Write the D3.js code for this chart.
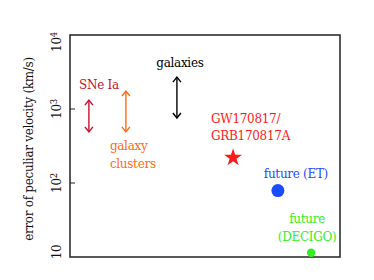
<!DOCTYPE html>
<html>
<head>
<meta charset="utf-8">
<script src="https://cdn.jsdelivr.net/npm/d3@7"></script>
<style>
  body { margin: 0; background: #fff; }
</style>
</head>
<body>
<div id="chart"></div>
<script>
// Ranges (double arrows): x position, low, high of velocity error (km/s)
const rangeNames = ["SNe Ia", "galaxy clusters", "galaxies"];
const rangeX = [0.7, 2.07, 3.96];
const rangeLow = [490, 490, 755];
const rangeHigh = [1320, 1750, 2700];
const rangeColors = ["#c8102e", "#ff6a13", "#000000"];

// Point estimates
const pointNames = ["GW170817/GRB170817A", "future (ET)", "future (DECIGO)"];
const pointX = [6.04, 7.7, 8.93];
const pointY = [220, 79, 11.4];
const pointColors = ["#ff1a1a", "#1a4cff", "#33ee22"];

const yTicks = [10, 100, 1000, 10000];

const width = 374, height = 280;
const margin = { top: 35, right: 34, bottom: 23, left: 70 };
const innerW = width - margin.left - margin.right,
      innerH = height - margin.top - margin.bottom;
const fontSize = "12px";

const svg = d3.select("#chart").append("svg")
  .attr("width", width)
  .attr("height", height)
  .style("font-family", "'DejaVu Serif'")
  .style("letter-spacing", "-0.3px");

const g = svg.append("g")
  .attr("transform", "translate(" + margin.left + "," + margin.top + ")");

const x = d3.scaleLinear().domain([0, 10]).range([0, innerW]);
const y = d3.scaleLog().domain([10, 10000]).range([innerH, 0]);

// Frame
g.append("rect")
  .attr("width", innerW)
  .attr("height", innerH)
  .attr("fill", "none")
  .attr("stroke", "#222")
  .attr("stroke-width", 1.5);

// Inner ticks on left axis (only interior decades)
g.selectAll(".ytick")
  .data(yTicks.slice(1, -1))
  .enter().append("line")
  .attr("x1", 0).attr("x2", 5)
  .attr("y1", d => y(d)).attr("y2", d => y(d))
  .attr("stroke", "#222");

// Tick labels, rotated
const tickLab = g.selectAll(".ylab")
  .data(yTicks)
  .enter().append("text")
  .attr("transform", d => "translate(-9," + (y(d) + (d === 10 ? -5 : d === 10000 ? 7 : 0)) + ") rotate(-90)")
  .attr("text-anchor", "middle")
  .style("font-size", fontSize)
  .attr("fill", "#111");
tickLab.append("tspan").text("10");
tickLab.filter(d => d > 10).append("tspan")
  .attr("dy", "-0.5em")
  .style("font-size", "8.5px")
  .text(d => Math.round(Math.log10(d)));

// Y axis title
svg.append("text")
  .attr("transform", "translate(33," + (margin.top + innerH / 2 + 3) + ") rotate(-90)")
  .attr("text-anchor", "middle")
  .style("font-size", fontSize)
  .attr("fill", "#111")
  .text("error of peculiar velocity (km/s)");

// Double-headed arrows
const head = 4;
rangeNames.forEach((name, i) => {
  const cx = x(rangeX[i]), y1 = y(rangeHigh[i]), y2 = y(rangeLow[i]);
  const a = g.append("g").attr("stroke", rangeColors[i]).attr("stroke-width", 1.4).attr("fill", "none");
  a.append("line").attr("x1", cx).attr("x2", cx).attr("y1", y1).attr("y2", y2);
  a.append("path").attr("d", `M${cx - head},${y1 + head + 1}L${cx},${y1}L${cx + head},${y1 + head + 1}`);
  a.append("path").attr("d", `M${cx - head},${y2 - head - 1}L${cx},${y2}L${cx + head},${y2 - head - 1}`);
});

// Range labels
g.append("text")
  .attr("x", x(rangeX[0]) + 10).attr("y", y(rangeHigh[0]) - 11)
  .attr("text-anchor", "middle")
  .style("font-size", fontSize)
  .attr("fill", rangeColors[0])
  .text("SNe Ia");

g.append("text")
  .attr("y", y(rangeLow[1]) + 18)
  .style("font-size", fontSize)
  .attr("fill", rangeColors[1])
  .selectAll("tspan")
  .data(["galaxy", "clusters"])
  .enter().append("tspan")
  .attr("x", x(rangeX[1]) - 16)
  .attr("dy", (d, j) => j === 0 ? 0 : 18)
  .text(d => d);

g.append("text")
  .attr("x", x(rangeX[2]) + 3).attr("y", y(rangeHigh[2]) - 10)
  .attr("text-anchor", "middle")
  .style("font-size", fontSize)
  .attr("fill", rangeColors[2])
  .text("galaxies");

// GW170817 star
g.append("path")
  .attr("d", d3.symbol().type(d3.symbolStar).size(100)())
  .attr("transform", "translate(" + x(pointX[0]) + "," + y(pointY[0]) + ")")
  .attr("fill", pointColors[0]);

g.append("text")
  .attr("y", y(pointY[0]) - 35)
  .style("font-size", fontSize)
  .attr("fill", pointColors[0])
  .selectAll("tspan")
  .data(["GW170817/", "GRB170817A"])
  .enter().append("tspan")
  .attr("x", x(pointX[0]) - 22)
  .attr("dy", (d, j) => j === 0 ? 0 : 17)
  .text(d => d);

// ET
g.append("circle")
  .attr("cx", x(pointX[1])).attr("cy", y(pointY[1]))
  .attr("r", 6.5)
  .attr("fill", pointColors[1]);

g.append("text")
  .attr("x", x(pointX[1]) + 18).attr("y", y(pointY[1]) - 13)
  .attr("text-anchor", "middle")
  .style("font-size", fontSize)
  .attr("fill", pointColors[1])
  .text("future (ET)");

// DECIGO
g.append("circle")
  .attr("cx", x(pointX[2])).attr("cy", y(pointY[2]))
  .attr("r", 4.2)
  .attr("fill", pointColors[2]);

g.append("text")
  .attr("y", y(pointY[2]) - 30)
  .attr("text-anchor", "middle")
  .style("font-size", fontSize)
  .attr("fill", pointColors[2])
  .selectAll("tspan")
  .data(["future", "(DECIGO)"])
  .enter().append("tspan")
  .attr("x", x(pointX[2]) - 4)
  .attr("dy", (d, j) => j === 0 ? 0 : 18)
  .text(d => d);
</script>
</body>
</html>
